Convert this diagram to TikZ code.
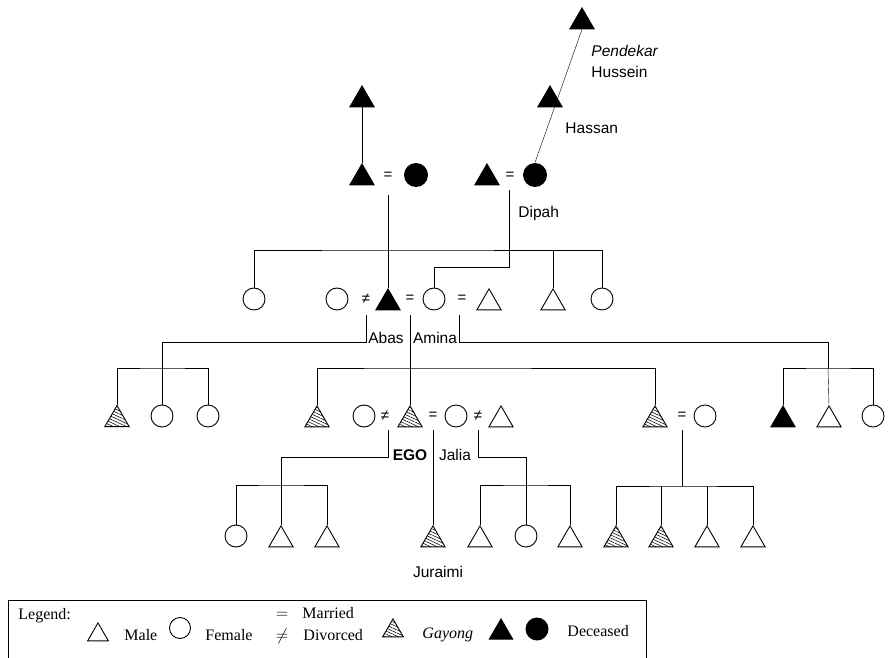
\documentclass[tikz,border=0pt]{standalone}
\usepackage{fontspec}
\setmainfont{Liberation Serif}
\setsansfont{Liberation Sans}
\usetikzlibrary{shapes.geometric,patterns.meta,backgrounds}
\begin{document}
\begin{tikzpicture}[x=1pt,y=-1pt,line width=0.9pt,
 tri/.style={regular polygon,regular polygon sides=3,minimum size=28pt,inner sep=0pt,draw,anchor=north},
 ftri/.style={tri,fill=black},
 htri/.style={tri,pattern={Lines[angle=-25,distance=2.8pt,line width=0.55pt]}},
 circ/.style={circle,minimum size=22pt,inner sep=0pt,draw},
 fcirc/.style={circle,minimum size=24pt,inner sep=0pt,fill=black},
 rel/.style={inner sep=0pt,font=\sffamily\fontsize{15}{15}\selectfont},
 lbl/.style={inner sep=0pt,font=\sffamily\fontsize{15.5}{15.5}\selectfont},
 leg/.style={inner sep=0pt,font=\fontsize{16}{16}\selectfont,anchor=base west},
]
\useasboundingbox (0,0) rectangle (889,658);
% generation 0
\node[ftri] (hus) at (582,7) {};
\node[ftri] (has) at (550,85) {};
\node[ftri] (tl0) at (362,85) {};
\node[lbl,anchor=base west] (lpend) at (591,57) {\itshape Pendekar};
\node[lbl,anchor=base west] (lhus) at (591,78) {Hussein};
\node[lbl,anchor=base west] (lhas) at (565,134) {Hassan};
% generation 1
\node[ftri] (gl) at (362,163) {};
\node[rel] (e1) at (388,176) {=};
\node[fcirc] (glw) at (416,175) {};
\node[ftri] (gr) at (487,163) {};
\node[rel] (e2) at (510,176) {=};
\node[fcirc] (dip) at (535,175) {};
\node[lbl,anchor=base west] (ldip) at (518,217) {Dipah};
% generation 2
\node[circ] (s1) at (254,299) {};
\node[circ] (w1) at (337,299) {};
\node[rel] (n1) at (366,299) {≠};
\node[ftri] (abas) at (388,288) {};
\node[rel] (e3) at (410,299) {=};
\node[circ] (amina) at (434,299) {};
\node[rel] (e4) at (462,299) {=};
\node[tri] (h2) at (489,288) {};
\node[tri] (s2) at (553,288) {};
\node[circ] (s3) at (602,299) {};
\node[lbl,anchor=base] (labas) at (386,343) {Abas};
\node[lbl,anchor=base] (lamina) at (435,343) {Amina};
% generation 3
\node[htri] (g1) at (117,405) {};
\node[circ] (g2) at (162,416) {};
\node[circ] (g3) at (208,416) {};
\node[htri] (m1) at (317,405) {};
\node[circ] (m2) at (364,416) {};
\node[rel] (n2) at (385,416) {≠};
\node[htri] (ego) at (410,405) {};
\node[rel] (e5) at (433,416) {=};
\node[circ] (jalia) at (456,416) {};
\node[rel] (n3) at (478,416) {≠};
\node[tri] (m4) at (501,405) {};
\node[htri] (m5) at (655,405) {};
\node[rel] (e6) at (682,416) {=};
\node[circ] (m6) at (705,416) {};
\node[ftri] (r1) at (783,405) {};
\node[tri] (r2) at (829,405) {};
\node[circ] (r3) at (873,416) {};
\node[lbl,anchor=base] (lego) at (410,460) {\bfseries EGO};
\node[lbl,anchor=base] (ljal) at (455,460) {Jalia};
% generation 4
\node[circ] (a1) at (236,536) {};
\node[tri] (a2) at (281,525) {};
\node[tri] (a3) at (327,525) {};
\node[htri] (jur) at (433,525) {};
\node[tri] (j1) at (480,525) {};
\node[circ] (j2) at (526,536) {};
\node[tri] (j3) at (570,525) {};
\node[htri] (p1) at (616,525) {};
\node[htri] (p2) at (661,525) {};
\node[tri] (p3) at (707,525) {};
\node[tri] (p4) at (753,525) {};
\node[lbl,anchor=base] (ljur) at (438,577) {Juraimi};
% coordinates
\coordinate (d1) at (388,195);
\coordinate (d2) at (509,190);
\coordinate (k2) at (509,267);
\coordinate (b1) at (388,250);
\coordinate (d3) at (366,315);
\coordinate (k3) at (366,342);
\coordinate (b3) at (162,368);
\coordinate (d4) at (410,315);
\coordinate (b4) at (410,368);
\coordinate (d5) at (459,315);
\coordinate (k5) at (459,342);
\coordinate (b5) at (828,368);
\coordinate (d6) at (388,430);
\coordinate (k6) at (388,457);
\coordinate (b6) at (281,485);
\coordinate (d7) at (433,430);
\coordinate (d8) at (478,430);
\coordinate (k8) at (478,457);
\coordinate (b8) at (526,485);
\coordinate (d9) at (682,430);
\coordinate (b9) at (682,486);
\begin{scope}[on background layer]
\draw (tl0.south) -- (gl.north);
\draw (dip.north) -- (hus.south);
\draw (d1) -- (abas.north);
\draw (d2) -- (k2) -| (amina.north);
\draw (s1.north) |- (b1) -| (s3.north);
\draw (s2.north) -- (s2.north |- b1);
\draw (d3) -- (k3) -| (b3);
\draw (g1.north) |- (b3) -| (g3.north);
\draw (b3) -- (g2.north);
\draw (d4) -- (ego.north);
\draw (m1.north) |- (b4) -| (m5.north);
\draw (d5) -- (k5) -| (b5);
\draw (r1.north) |- (b5) -| (r3.north);
\draw (b5) -- (r2.north);
\draw (d6) -- (k6) -| (b6);
\draw (a1.north) |- (b6) -| (a3.north);
\draw (b6) -- (a2.north);
\draw (d7) -- (jur.north);
\draw (d8) -- (k8) -| (b8);
\draw (j1.north) |- (b8) -| (j3.north);
\draw (b8) -- (j2.north);
\draw (d9) -- (b9);
\draw (p1.north) |- (b9) -| (p4.north);
\draw (p2.north) -- (p2.north |- b9);
\draw (p3.north) -- (p3.north |- b9);
\end{scope}
% legend
\draw (8,600) rectangle (646,680);
\node[leg] (lg) at (18,619) {Legend:};
\node[tri,minimum size=24pt] (lmale) at (98,622) {};
\node[leg] (tmale) at (124,640) {Male};
\node[circ,minimum size=21pt] (lfem) at (180,628) {};
\node[leg] (tfem) at (205,640) {Female};
\node[leg,anchor=base] (leq) at (282,618) {$=$};
\node[leg] (tmar) at (302,618) {Married};
\node[leg,anchor=base] (lneq) at (282,640) {$\neq$};
\node[leg] (tdiv) at (303,640) {Divorced};
\node[htri,minimum size=24pt] (lgay) at (393,618) {};
\node[leg] (tgay) at (422,638) {\itshape Gayong};
\node[ftri,minimum size=27pt] (ldt) at (501,618) {};
\node[fcirc,minimum size=23pt] (ldc) at (537,629) {};
\node[leg] (tdec) at (567,636) {Deceased};
\end{tikzpicture}
\end{document}
